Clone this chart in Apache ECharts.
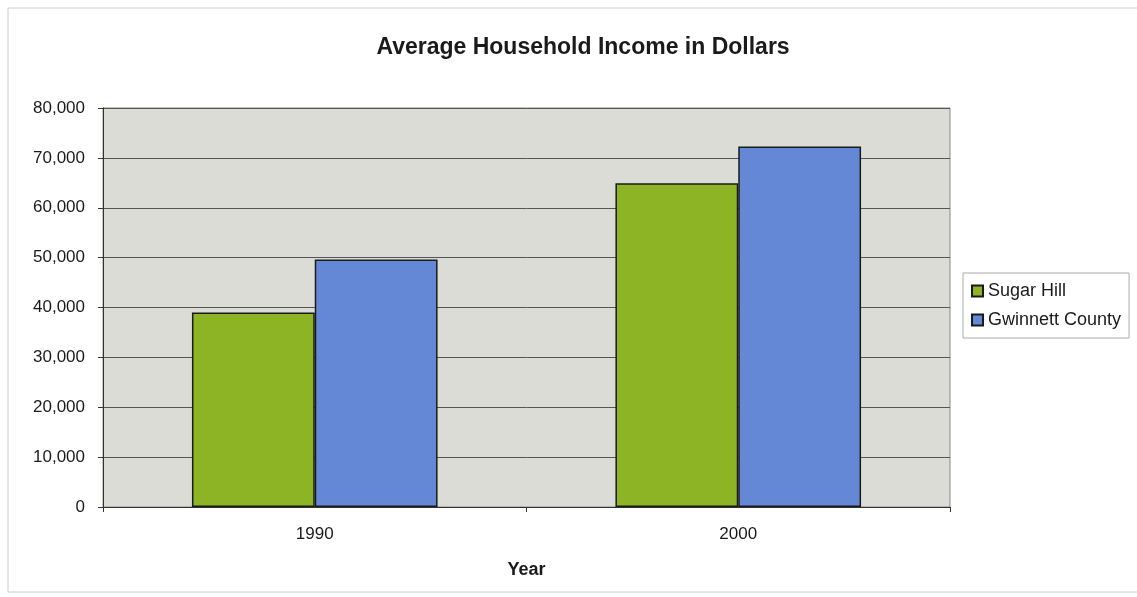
<!DOCTYPE html>
<html>
<head>
<meta charset="utf-8">
<script src="https://cdn.jsdelivr.net/npm/echarts@6/dist/echarts.min.js"></script>
<style>
  html, body { margin: 0; padding: 0; background: #fff; }
  #chart { width: 1137px; height: 597px; }
</style>
</head>
<body>
<div id="chart"></div>
<script>
// data
const years = ['1990', '2000'];
const sugarHill = [39000, 64900];
const gwinnett = [49600, 72300];
const yTicks = [0, 80000, 10000]; // min, max, step

const myChart = echarts.init(document.getElementById('chart'));
const font = 'Liberation Sans, Arial, sans-serif';

myChart.setOption({
  backgroundColor: '#ffffff',
  title: {
    text: 'Average Household Income in Dollars',
    left: 578,
    top: 31,
    textAlign: 'center',
    textStyle: { fontFamily: font, fontSize: 23, fontWeight: 'bold', color: '#1a1a1a' }
  },
  legend: {
    orient: 'vertical',
    left: 963,
    top: 273,
    itemWidth: 11,
    itemHeight: 11,
    itemGap: 11,
    icon: 'rect',
    padding: [9, 8, 9, 8],
    borderColor: '#aaa',
    borderWidth: 1,
    textStyle: { fontFamily: font, fontSize: 18, color: '#1a1a1a' },
    data: ['Sugar Hill', 'Gwinnett County']
  },
  grid: {
    left: 103,
    right: 187,
    top: 108,
    bottom: 90,
    show: true,
    backgroundColor: '#dcdcd7',
    borderColor: '#888',
    borderWidth: 1
  },
  xAxis: {
    type: 'category',
    data: years,
    name: 'Year',
    nameLocation: 'middle',
    nameGap: 54,
    nameTextStyle: { fontFamily: font, fontSize: 18, fontWeight: 'bold', color: '#1a1a1a' },
    axisLine: { lineStyle: { color: '#333' } },
    axisTick: { show: true, alignWithLabel: false, length: 5, lineStyle: { color: '#333' } },
    axisLabel: { fontFamily: font, fontSize: 17, color: '#1a1a1a', margin: 19 }
  },
  yAxis: {
    type: 'value',
    min: yTicks[0],
    max: yTicks[1],
    interval: yTicks[2],
    axisLine: { show: true, lineStyle: { color: '#333' } },
    axisTick: { show: true, length: 5, lineStyle: { color: '#333' } },
    axisLabel: {
      fontFamily: font, fontSize: 17, color: '#1a1a1a', margin: 18,
      formatter: v => v.toLocaleString('en-US')
    },
    splitLine: { lineStyle: { color: '#555', width: 1 } }
  },
  series: [
    {
      name: 'Sugar Hill',
      type: 'bar',
      data: sugarHill,
      barGap: '0%',
      barCategoryGap: '42%',
      itemStyle: { color: '#8db425', borderColor: '#1a1a1a', borderWidth: 1.5 }
    },
    {
      name: 'Gwinnett County',
      type: 'bar',
      data: gwinnett,
      itemStyle: { color: '#6488d6', borderColor: '#1a1a1a', borderWidth: 1.5 }
    }
  ],
  graphic: [
    {
      type: 'rect',
      shape: { x: 8, y: 8, width: 1140, height: 584 },
      style: { fill: 'none', stroke: '#ccc', lineWidth: 1 },
      silent: true
    }
  ]
});
</script>
</body>
</html>
